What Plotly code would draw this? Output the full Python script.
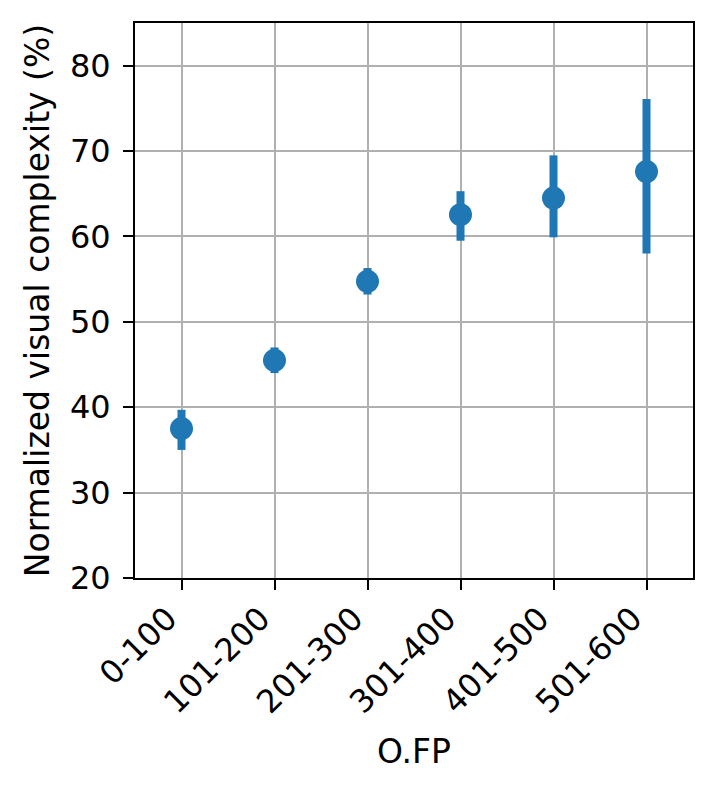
import plotly.graph_objects as go

categories = ["0-100", "101-200", "201-300", "301-400", "401-500", "501-600"]
means = [37.5, 45.5, 54.75, 62.55, 64.5, 67.6]
upper = [39.7, 47.0, 56.3, 65.3, 69.5, 76.1]
lower = [35.0, 44.0, 53.2, 59.5, 59.9, 58.0]

err_plus = [u - m for u, m in zip(upper, means)]
err_minus = [m - l for m, l in zip(means, lower)]

blue = "#1f77b4"

fig = go.Figure()
fig.add_trace(go.Scatter(
    x=categories, y=means, mode="markers",
    marker=dict(color=blue, size=23),
    error_y=dict(type="data", symmetric=False, array=err_plus, arrayminus=err_minus,
                 color=blue, thickness=8, width=0),
))

fs = 32

axis_common = dict(
    showline=True, linecolor="black", linewidth=2, mirror=True,
    ticks="outside", ticklen=10, tickwidth=2, tickcolor="black",
    showgrid=True, gridcolor="#b0b0b0", gridwidth=2,
    zeroline=False, tickfont=dict(size=fs, color="black"),
)

# page body adds an 8px offset, margins compensate for it
fig.update_layout(
    width=717, height=793,
    margin=dict(l=127, r=32, t=15, b=223),
    plot_bgcolor="white", paper_bgcolor="white",
    font=dict(family="DejaVu Sans", size=fs, color="black"),
    showlegend=False,
    xaxis=dict(axis_common, type="category", range=[-0.5, 5.5], tickangle=-45,
               ticklabelstandoff=-3, ticklabelshift=-14,
               title=dict(text="O.FP", font=dict(size=33), standoff=20)),
    yaxis=dict(axis_common, range=[20, 85], tickvals=[20, 30, 40, 50, 60, 70, 80],
               ticklabelstandoff=6,
               title=dict(text="Normalized visual complexity (%)", font=dict(size=33), standoff=10)),
)

fig.write_html("out.html")
